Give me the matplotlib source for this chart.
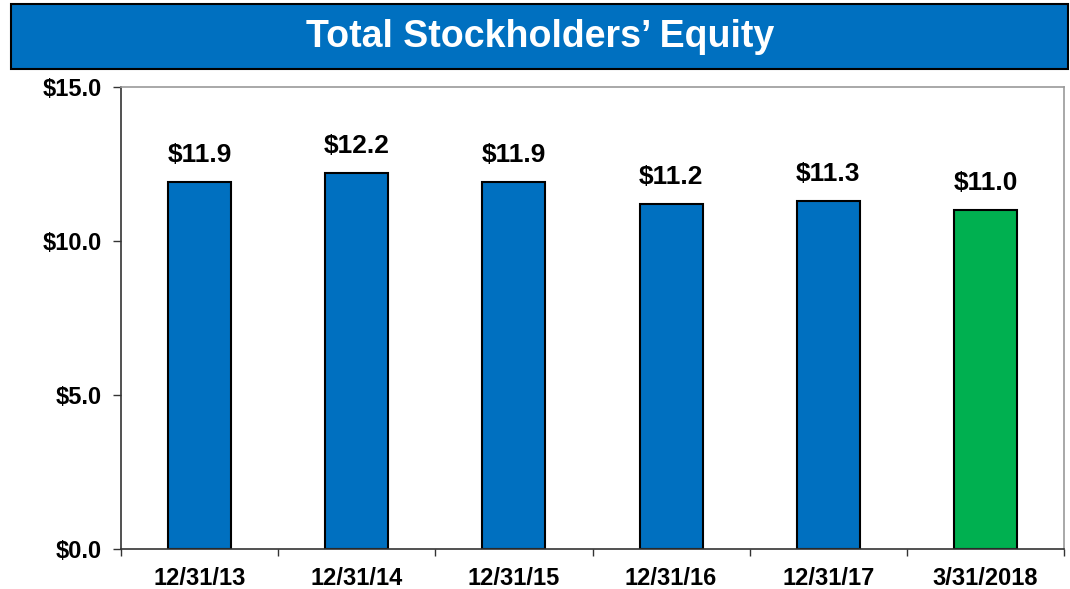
import matplotlib
matplotlib.use("Agg")
import matplotlib.pyplot as plt
import numpy as np
from matplotlib.patches import Rectangle

plt.rcParams['font.family'] = ['Liberation Sans', 'DejaVu Sans']
plt.rcParams['font.weight'] = 'bold'

# data
periods = ['12/31/13', '12/31/14', '12/31/15', '12/31/16', '12/31/17', '3/31/2018']
equity = [11.9, 12.2, 11.9, 11.2, 11.3, 11.0]
bar_colors = ['#0070C0', '#0070C0', '#0070C0', '#0070C0', '#0070C0', '#00B050']
y_ticks = [0, 5, 10, 15]

fig = plt.figure(figsize=(10.7, 5.89), dpi=100)

# title banner
fig.patches.append(Rectangle((0.0103, 0.8829), 0.9879, 0.1104, transform=fig.transFigure,
                             facecolor='#0070C0', edgecolor='black', linewidth=1.5))
fig.text(0.505, 0.937, 'Total Stockholders\u2019 Equity', ha='center', va='center',
         color='white', fontsize=27, fontweight='bold')

ax = fig.add_axes([0.1131, 0.0679, 0.8813, 0.7844])
x = np.arange(len(periods))
bars = ax.bar(x, equity, width=0.4, color=bar_colors, edgecolor='black', linewidth=1.5)

for xi, v in zip(x, equity):
    ax.text(xi, v + 0.5, f'${v:.1f}', ha='center', va='bottom', fontsize=19, fontweight='bold')

ax.set_xlim(-0.5, len(periods) - 0.5)
ax.set_ylim(0, 15)
ax.set_yticks(y_ticks)
ax.set_yticklabels([f'${t:.1f}' for t in y_ticks], fontsize=17, fontweight='bold')
ax.set_xticks(x)
ax.set_xticklabels(periods, fontsize=17, fontweight='bold')
ax.set_xticks(np.arange(len(periods) + 1) - 0.5, minor=True)
ax.tick_params(axis='x', which='major', length=0, pad=13)
ax.tick_params(axis='x', which='minor', length=5, width=1, color='#333333', direction='out')
ax.tick_params(axis='y', length=6, width=1, color='#333333', direction='out', pad=8)

ax.spines['left'].set_color('#333333')
ax.spines['bottom'].set_color('#333333')
ax.spines['top'].set_color('#999999')
ax.spines['right'].set_color('#999999')
for s in ax.spines.values():
    s.set_linewidth(1.2)

fig.savefig('out.png', dpi=100)
